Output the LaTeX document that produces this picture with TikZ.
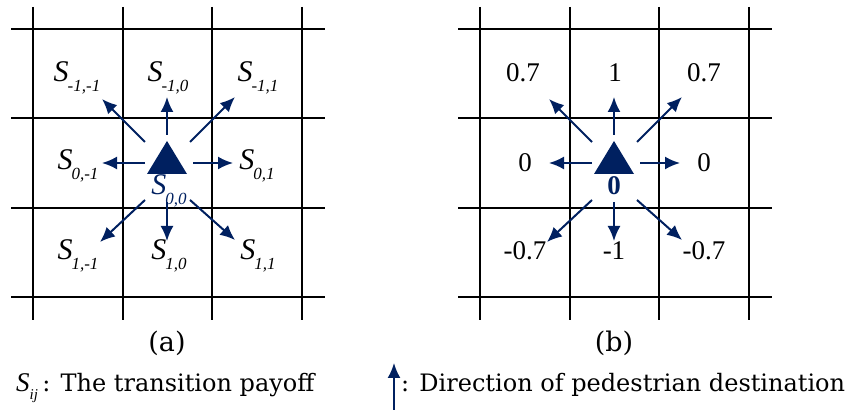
\documentclass[tikz,border=0pt]{standalone}
\usepackage{fontspec}
\setmainfont{Liberation Serif}
\newfontfamily\capfont{DejaVu Serif}
\usetikzlibrary{arrows.meta, positioning, calc}
\definecolor{navy}{HTML}{002060}
\tikzstyle{gridline} = [draw, line width=1.3pt]
\tikzstyle{heading} = [draw=navy, line width=2pt, -{Latex[length=15pt,width=13pt]}]
\tikzstyle{cell} = [inner sep=0pt, anchor=base, font=\fontsize{27}{27}\selectfont]
\tikzstyle{slabel} = [cell, font=\fontsize{30}{30}\selectfont]
\tikzstyle{captext} = [inner sep=0pt, anchor=base, font=\capfont\fontsize{24}{24}\selectfont]
\newcommand{\Slab}[1]{\textit{S}\kern-1pt\raisebox{-10pt}{\fontsize{17}{17}\selectfont\itshape #1}}

\begin{document}
\begin{tikzpicture}[x=1pt, y=-1pt]
    \useasboundingbox (0,0) rectangle (855,411);

    % the two grids
    \foreach \ox in {0,447} {
        \foreach \gy in {29,118,208,297}
            \draw[gridline] (\ox+11,\gy) -- (\ox+325,\gy);
        \foreach \gx in {33,123,212,302}
            \draw[gridline] (\ox+\gx,7) -- (\ox+\gx,320);
    }

    % pedestrians
    \coordinate (a-c) at (167,163);
    \coordinate (b-c) at (614,163);
    \foreach \p in {a,b} {
        \fill[navy] ($(\p-c)+(0,-22)$) -- ($(\p-c)+(20,11)$) -- ($(\p-c)+(-20,11)$) -- cycle;
        \foreach \d/\sx/\sy/\ex/\ey in {n/0/-28/0/-66, w/-22/0/-65/0, e/26/0/66/0,
                nw/-22/-21/-65/-64, ne/23/-21/68/-66,
                sw/-22/37/-67/79, s/0/39/0/78, se/23/37/68/77} {
            \coordinate (\p-\d-s) at ($(\p-c)+(\sx,\sy)$);
            \coordinate (\p-\d-e) at ($(\p-c)+(\ex,\ey)$);
            \draw[heading] (\p-\d-s) -- (\p-\d-e);
        }
    }

    % (a) transition payoffs
    \node[slabel] (s-nw) at (77,82) {\Slab{-1,-1}};
    \node[slabel] (s-n) at (168,82) {\Slab{-1,0}};
    \node[slabel] (s-ne) at (258,82) {\Slab{-1,1}};
    \node[slabel] (s-w) at (78,170) {\Slab{0,-1}};
    \node[slabel, text=navy] (s-c) at (169,195) {\Slab{0,0}};
    \node[slabel] (s-e) at (257,170) {\Slab{0,1}};
    \node[slabel] (s-sw) at (78,260) {\Slab{1,-1}};
    \node[slabel] (s-s) at (169,260) {\Slab{1,0}};
    \node[slabel] (s-se) at (258,260) {\Slab{1,1}};

    % (b) values
    \node[cell] (v-nw) at (523,82) {0.7};
    \node[cell] (v-n) at (615,82) {1};
    \node[cell] (v-ne) at (704,82) {0.7};
    \node[cell] (v-w) at (525,172) {0};
    \node[cell, text=navy, font=\bfseries\fontsize{27}{27}\selectfont] (v-c) at (614,195) {0};
    \node[cell] (v-e) at (704,172) {0};
    \node[cell] (v-sw) at (525,260) {-0.7};
    \node[cell] (v-s) at (614,260) {-1};
    \node[cell] (v-se) at (704,260) {-0.7};

    \node[captext, font=\capfont\fontsize{27}{27}\selectfont] (cap-a) at (167,352) {(a)};
    \node[captext, font=\capfont\fontsize{27}{27}\selectfont] (cap-b) at (614,352) {(b)};

    % legend
    \node[inner sep=0pt, anchor=base west, font=\fontsize{27}{27}\selectfont] (leg-s) at (16,392)
        {\textit{S}\raisebox{-8pt}{\fontsize{15}{15}\selectfont\itshape ij}};
    \node[captext, base right=4pt of leg-s] (leg-txt) {: The transition payoff};
    \coordinate (leg-bot) at (394,410);
    \coordinate (leg-top) at (394,363);
    \draw[heading] (leg-bot) -- (leg-top);
    \node[captext, anchor=base west] (leg-dir) at (401,392) {: Direction of pedestrian destination};
\end{tikzpicture}
\end{document}
